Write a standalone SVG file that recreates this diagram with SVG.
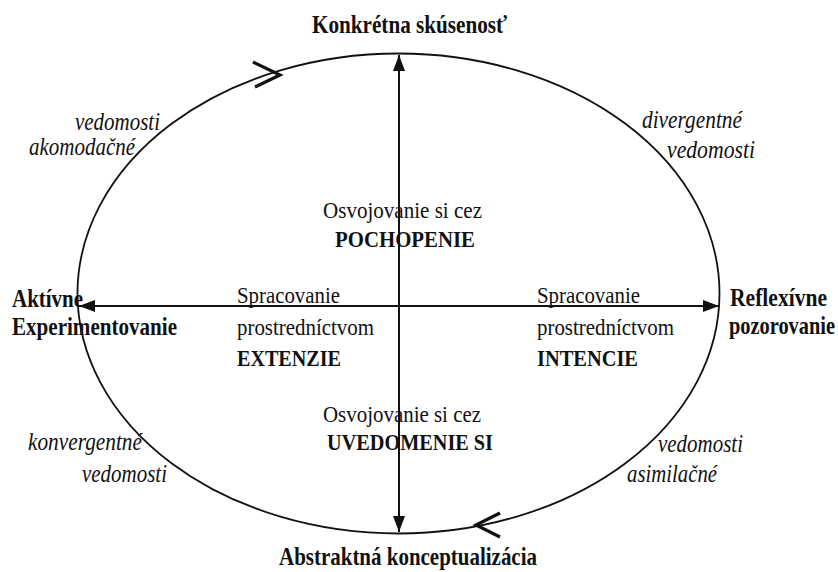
<svg xmlns="http://www.w3.org/2000/svg" width="838" height="572" viewBox="0 0 838 572" font-family="Liberation Serif, Times New Roman, Times, DejaVu Serif, serif">
<style>
text{fill:#111}
.b{font-weight:bold;font-size:21px}
.i{font-style:italic;font-size:21px}
.r{font-size:20.5px}
.ln{stroke:#111;stroke-width:2;fill:none}
.chev{stroke:#111;stroke-width:3.2;fill:none;stroke-linejoin:miter;stroke-linecap:butt}
</style>
<defs>
<marker id="ah" markerUnits="userSpaceOnUse" markerWidth="16" markerHeight="12" refX="16" refY="6" orient="auto">
<path d="M0,0 L16,6 L0,12 z" fill="#111"/>
</marker>
</defs>
<rect width="838" height="572" fill="#fff"/>
<g id="cycle">
<ellipse cx="398.5" cy="293.5" rx="321" ry="240" stroke="#111" stroke-width="1.8" fill="none"/>
<path class="chev" d="M253,62 L280,75 L255,87"/>
<path class="chev" d="M500,513 L476,525 L500,537"/>
</g>
<g id="connectors">
<line class="ln" x1="399" y1="293" x2="399" y2="55" marker-end="url(#ah)"/>
<line class="ln" x1="399" y1="293" x2="399" y2="532" marker-end="url(#ah)"/>
<line class="ln" x1="399" y1="306" x2="79" y2="306" marker-end="url(#ah)"/>
<line class="ln" x1="399" y1="306" x2="719" y2="306" marker-end="url(#ah)"/>
</g>
<g id="n-top"><text class="b" transform="translate(312,33) scale(1,1.15)" textLength="195" lengthAdjust="spacingAndGlyphs">Konkrétna skúsenosť</text></g>
<g id="n-bottom"><text class="b" transform="translate(279,565) scale(1,1.15)" textLength="258" lengthAdjust="spacingAndGlyphs">Abstraktná konceptualizácia</text></g>
<g id="n-left">
<text class="b" transform="translate(12,307) scale(1,1.15)" textLength="71" lengthAdjust="spacingAndGlyphs">Aktívne</text>
<text class="b" transform="translate(12,335) scale(1,1.15)" textLength="165" lengthAdjust="spacingAndGlyphs">Experimentovanie</text>
</g>
<g id="n-right">
<text class="b" transform="translate(730,306) scale(1,1.15)" textLength="97" lengthAdjust="spacingAndGlyphs">Reflexívne</text>
<text class="b" transform="translate(729,334) scale(1,1.15)" textLength="106" lengthAdjust="spacingAndGlyphs">pozorovanie</text>
</g>
<g id="q-tl">
<text class="i" transform="translate(75,130) scale(1,1.15)" textLength="85" lengthAdjust="spacingAndGlyphs">vedomosti</text>
<text class="i" transform="translate(29,155) scale(1,1.15)" textLength="106" lengthAdjust="spacingAndGlyphs">akomodačné</text>
</g>
<g id="q-tr">
<text class="i" transform="translate(642,128) scale(1,1.15)" textLength="100" lengthAdjust="spacingAndGlyphs">divergentné</text>
<text class="i" transform="translate(667,158) scale(1,1.15)" textLength="88" lengthAdjust="spacingAndGlyphs">vedomosti</text>
</g>
<g id="q-bl">
<text class="i" transform="translate(28,450) scale(1,1.15)" textLength="114" lengthAdjust="spacingAndGlyphs">konvergentné</text>
<text class="i" transform="translate(82,482) scale(1,1.15)" textLength="85" lengthAdjust="spacingAndGlyphs">vedomosti</text>
</g>
<g id="q-br">
<text class="i" transform="translate(658,452) scale(1,1.15)" textLength="85" lengthAdjust="spacingAndGlyphs">vedomosti</text>
<text class="i" transform="translate(627,482) scale(1,1.15)" textLength="90" lengthAdjust="spacingAndGlyphs">asimilačné</text>
</g>
<g id="c-top">
<text class="r" transform="translate(323,218) scale(1,1.15)" textLength="159" lengthAdjust="spacingAndGlyphs">Osvojovanie si cez</text>
<text class="r" font-weight="bold" transform="translate(335,247) scale(1,1.15)" textLength="140" lengthAdjust="spacingAndGlyphs">POCHOPENIE</text>
</g>
<g id="c-left">
<text class="r" transform="translate(237,303) scale(1,1.15)" textLength="103" lengthAdjust="spacingAndGlyphs">Spracovanie</text>
<text class="r" transform="translate(237,335) scale(1,1.15)" textLength="137" lengthAdjust="spacingAndGlyphs">prostredníctvom</text>
<text class="r" font-weight="bold" transform="translate(237,366) scale(1,1.15)" textLength="104" lengthAdjust="spacingAndGlyphs">EXTENZIE</text>
</g>
<g id="c-right">
<text class="r" transform="translate(537,303) scale(1,1.15)" textLength="103" lengthAdjust="spacingAndGlyphs">Spracovanie</text>
<text class="r" transform="translate(537,335) scale(1,1.15)" textLength="137" lengthAdjust="spacingAndGlyphs">prostredníctvom</text>
<text class="r" font-weight="bold" transform="translate(537,366) scale(1,1.15)" textLength="101" lengthAdjust="spacingAndGlyphs">INTENCIE</text>
</g>
<g id="c-bottom">
<text class="r" transform="translate(323,422) scale(1,1.15)" textLength="158" lengthAdjust="spacingAndGlyphs">Osvojovanie si cez</text>
<text class="r" font-weight="bold" transform="translate(327,450) scale(1,1.15)" textLength="166" lengthAdjust="spacingAndGlyphs">UVEDOMENIE SI</text>
</g>
</svg>
